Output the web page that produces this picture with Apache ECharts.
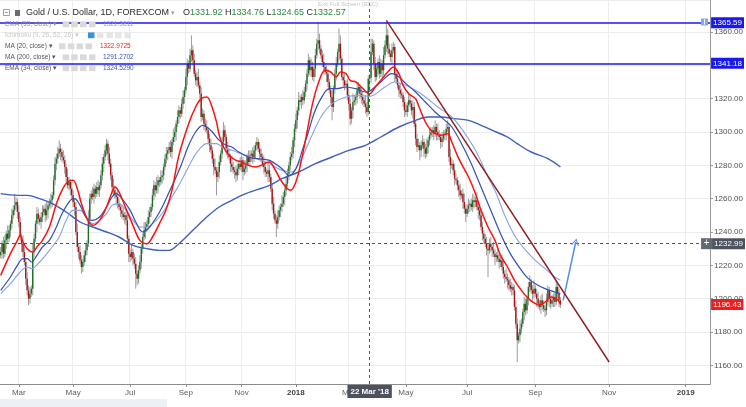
<!DOCTYPE html>
<html><head><meta charset="utf-8">
<script src="https://cdn.jsdelivr.net/npm/echarts@6/dist/echarts.min.js"></script>
<style>html,body{margin:0;padding:0;background:#fff}#c{width:746px;height:407px}</style>
</head><body><div id="c"></div>
<script>
// ---------------- DATA ----------------
const closes = [
1228,1233,1227,1235,1239,1236,1241,1245,1250,1253,1256,1258,1252,1246,1237,1233,1228,1222,1212,1205,1200,1203,1206,
1228,1236,1245,1251,1248,1246,1249,1252,1254,1250,1253,1256,1257,1259,1262,1271,1281,1284,1287,1290,
1288,1285,1283,1279,1273,1268,1270,1266,1262,1258,1255,1240,1231,1228,1223,1219,
1222,1226,1229,1233,1248,1260,1263,1261,1266,1263,1267,1265,1268,1274,1281,1285,1289,1293,
1287,1281,1274,1267,1265,1262,1261,1257,1255,1253,1251,1249,1250,1247,1236,1227,1225,1228,1224,1221,1215,
1212,1217,1222,1230,1237,1241,1243,1245,1249,1252,1255,1262,1268,1265,1268,1271,1270,1273,1274,1279,1284,1287,1289,1291,1288,1294,1297,1300,1305,1309,1313,1311,1317,1321,1325,1333,1341,1338,1346,1349,
1343,1335,1331,1333,1328,1323,1309,1311,1305,1303,1301,1296,1292,1289,1284,1279,1277,1273,
1276,1282,1287,1294,1301,
1297,1290,1287,1285,1281,1279,1277,1276,1274,
1278,1281,1279,1283,1276,1278,1280,1285,1282,1286,1287,1284,1289,1292,1294,
1290,1287,1285,1281,1279,1276,1275,1277,1273,1266,1257,1251,1247,1245,
1249,1253,1255,1257,1261,1265,1269,1275,1280,1285,1287,1295,1302,1307,1313,1319,1318,1321,1319,1324,1329,1335,1343,1337,1339,1333,1338,1346,1353,1355,
1350,1346,1342,1339,1336,1335,1330,1325,1321,1315,
1326,1335,1341,1348,1353,1344,1333,1331,1328,1329,1322,1317,1308,
1313,1318,1319,1321,1325,1327,1323,1321,1319,1317,1315,1312,1331.92,1332.57,
1348,1353,1341,1333,1338,1342,1335,1341,1337,1346,1352,1358,
1350,1347,1345,1349,1351,1335,1332,1328,1325,1323,1322,1318,1313,1312,1316,1319,1317,1313,1315,1305,1296,1291,1292,1289,
1292,1294,1290,1287,1291,1295,1298,1300,1301,1299,1303,1300,1298,1297,1294,1296,1298,1299,1302,1303,
1285,1280,1281,1277,1272,1271,1268,1265,1262,1263,1258,1254,1251,1254,1256,1257,1255,1259,1258,1259,1255,1253,1250,1243,1239,1236,1233,1230,1229,
1233,1231,1229,1227,1225,1226,1224,1222,1223,1219,1215,1213,1212,1211,1208,1206,1207,1205,1195,1185,1175,
1178,1182,1185,1192,1197,1193,1200,1207,1210,1205,1203,1206,1203,1200,1197,1195,1199,1196,1194,1193,1198,1205,1200,1197,1199,1201,1198,1207,1203,1199,1196.43
];
const firstOpen = 1226;
const wickUp = [
3,2,4,3,2,5,3,2,4,3, 7,3,2,4,3,2,5,3,2,4, 3,4,2,5,3,2,4,3,2,3, 4,2,3,5,2,3,4,2,3,4,
3,4,5,3,2,4,3,2,5,3, 2,4,3,2,3,5,2,4,3,2, 3,4,2,5,3,2,4,3,2,3, 4,2,3,4,2,3,3,2,4,3,
2,5,3,2,4,3,2,3,4,2, 3,4,2,3,5,2,3,4,2,3, 4,3,2,5,3,2,4,3,2,4, 3,2,5,3,2,4,3,2,3,4,
2,3,4,2,5,3,2,4,3,2, 3,4,2,5,3,2,4,9,3,4, 2,3,5,2,4,3,2,3,4,2, 3,4,2,3,5,2,3,4,2,3,
5,3,2,4,3,2,5,3,2,4, 3,2,4,3,2,5,3,2,4,3, 2,4,3,2,3,2,4,3,2,5, 3,2,4,3,2,3,4,2,3,4,
3,2,5,3,2,4,3,2,3,4, 2,3,4,2,5,3,2,4,3,2, 3,4,2,5,3,2,4,3,11,4, 2,3,5,2,4,3,2,3,4,2,
3,4,2,9,5,2,3,4,2,3, 4,3,2,5,3,2,4,3,2,4, 3,2,5,3,2,2.19,8,3,2,4, 3,2,4,3,2,5,3,8,4,3,
2,4,3,2,3,5,2,4,3,2, 3,4,2,5,3,2,4,3,2,3, 4,2,3,4,2,3,5,2,4,3, 2,3,4,2,5,3,2,4,3,2,
3,4,2,5,3,2,4,3,2,3, 4,2,3,5,2,3,4,2,3,4, 3,2,5,3,2,4,3,2,3,4, 2,3,4,2,5,3,2,4,3,2,
3,4,2,5,3,2,4,3,2,3, 4,3,2,5,3,2,4,3,2,3, 4,2,3,5,2,3,4,2,3,4, 3,2,5,3,2,4,3,2,3,4,
2,3,2
];
const wickDn = [
2,4,3,2,5,3,2,4,3,2, 3,2,4,3,2,5,3,2,4,3, 4,3,2,4,3,2,5,3,2,4, 3,2,4,3,5,2,3,4,2,3,
4,3,2,5,3,2,4,3,2,3, 4,2,3,5,2,3,4,2,4,3, 2,4,3,2,5,3,2,4,3,2, 3,4,2,3,5,2,3,4,2,3,
4,3,2,5,3,2,4,3,2,4, 3,2,5,3,2,4,3,9,4,3, 2,4,3,2,5,3,2,4,3,2, 3,4,2,5,3,2,4,3,2,3,
4,2,3,4,2,3,5,2,4,3, 2,3,4,2,5,3,2,4,3,2, 3,4,2,5,3,2,4,3,2,3, 4,2,3,5,2,11,3,4,2,3,
3,2,4,3,2,5,3,2,4,4, 3,4,2,3,5,2,3,4,2,3, 4,3,2,5,3,2,4,3,2,4, 3,2,5,3,2,4,3,2,8,3,
2,4,3,2,5,3,2,4,3,2, 3,4,2,5,3,2,4,3,2,3, 4,2,3,4,2,3,5,2,4,3, 2,3,4,2,5,3,2,4,8,3,
3,4,2,5,3,2,4,3,2,3, 4,4,3,5,2,3,4,2,3,4, 3,2,4,3,2,7.27,3,2,4,3, 2,4,3,2,5,3,2,4,3,2,
3,4,2,5,3,2,4,3,2,3, 4,2,3,4,2,3,5,2,4,3, 2,6,4,2,5,3,2,4,3,2, 3,4,2,5,3,2,4,3,2,3,
4,2,3,5,2,3,4,2,3,4, 3,2,4,3,5,2,3,4,2,3, 4,3,2,5,3,2,4,3,2,4, 16,2,3,4,2,5,3,2,4,3,
2,3,4,2,5,3,2,4,3,2, 3,13,2,4,3,2,5,3,2,4, 3,2,4,3,2,5,3,2,4,3, 2,4,3,2,5,3,2,4,3,2,
3,4,2
];
const slotCount = 510;                 // bars + future space to early 2019
const monthTicks = [[13,'Mar'],[52,'May'],[93,'Jul'],[133,'Sep'],[173,'Nov'],[212,'2018'],
                    [250,'Mar'],[291,'May'],[335,'Jul'],[384,'Sep'],[437,'Nov'],[492,'2019']];
const ma20 = [[0,1214],[7,1227],[12,1235],[14,1238],[16,1234],[19,1230],[23,1228],[26,1231],[30,1235],[35,1243],[40,1257],[44,1265],[48,1270],[52,1271],[55,1266],[58,1257],[62,1248],[66,1244],[71,1247],[76,1255],[80,1264],[82,1267],[85,1264],[90,1254],[95,1244],[100,1235],[105,1233],[109,1237],[114,1245],[119,1254],[123,1265],[128,1286],[135,1305],[140,1315],[144,1320],[148,1321],[151,1317],[155,1306],[157,1298],[160,1291],[164,1286],[169,1283],[173,1282],[178,1280],[183,1279],[193,1282],[196,1279],[202,1270],[208,1265],[212,1270],[216,1283],[220,1300],[224,1317],[228,1329],[233,1337],[237,1336],[241,1333],[244,1336],[248,1335],[251,1331],[255,1330],[259,1327],[265,1323],[269,1327],[273,1331],[278,1336],[282,1339],[286,1335],[289,1328],[293,1323],[298,1320],[300,1316],[305,1306],[309,1301],[312,1299],[316,1298],[321,1299],[324,1294],[329,1284],[336,1273],[341,1263],[345,1253],[350,1243],[355,1235],[359,1226],[364,1219],[369,1211],[374,1205],[379,1200],[384,1197],[387,1196],[391,1198],[395,1201],[399,1200],[402,1197]];
const ema34 = [[0,1205],[7,1213],[12,1220],[16,1224],[19,1224],[22,1222],[26,1226],[30,1231],[35,1235],[40,1243],[44,1251],[50,1259],[53,1260],[57,1256],[62,1248],[66,1247],[71,1249],[76,1255],[80,1261],[83,1263],[87,1260],[93,1253],[97,1246],[102,1240],[107,1243],[112,1249],[116,1255],[121,1264],[126,1273],[130,1281],[135,1292],[140,1300],[145,1304],[148,1303],[152,1300],[157,1295],[162,1292],[166,1291],[171,1288],[178,1285],[184,1284],[193,1283],[202,1278],[207,1274],[212,1278],[217,1290],[221,1300],[225,1311],[230,1320],[236,1326],[241,1326],[248,1327],[255,1326],[262,1324],[265,1324.5],[273,1330],[281,1335],[286,1333],[291,1329],[298,1324],[305,1318],[312,1312],[319,1307],[324,1303],[331,1293],[338,1281],[345,1267],[352,1253],[359,1239],[366,1227],[374,1217],[379,1212],[384,1209],[391,1206],[398,1204],[402,1203]];
const ema55 = [[0,1203],[7,1209],[14,1216],[19,1219],[22,1218],[28,1222],[35,1229],[42,1237],[47,1247],[52,1253],[57,1253],[62,1248],[66,1245],[71,1247],[76,1251],[80,1256],[85,1257],[90,1253],[95,1247],[100,1243],[105,1243],[109,1245],[114,1249],[119,1255],[123,1261],[128,1268],[133,1276],[138,1284],[143,1290],[148,1293],[155,1293],[159,1291],[166,1289],[176,1286],[184,1284],[193,1281],[202,1277],[209,1276],[216,1284],[223,1297],[230,1309],[238,1317],[248,1321],[257,1322],[265,1321.4],[276,1327],[283,1330],[291,1328],[298,1325],[305,1321],[314,1315],[324,1309],[331,1302],[341,1289],[350,1273],[356,1263],[362,1250],[369,1238],[376,1230],[384,1223],[391,1218],[398,1213],[402,1211]];
const ma200 = [[0,1263],[12,1262],[19,1262],[28,1260],[37,1257],[47,1252],[57,1246],[66,1243],[76,1240],[85,1237],[95,1232],[105,1230],[114,1229],[121,1229],[128,1233],[138,1241],[148,1249],[157,1255],[166,1259],[176,1263],[193,1268],[202,1272],[214,1276],[226,1281],[238,1285],[250,1289],[262,1292],[273,1297],[286,1303],[298,1307],[307,1309],[316,1309],[326,1308],[336,1307],[345,1304],[356,1300],[364,1297],[371,1293],[381,1288],[393,1284],[402,1279]];
const trendLine = [[277,1367],[437,1162]];
const arrowPath = [[404,1199],[413,1234]];
const levelLines = [1365.59, 1341.18];
const lastPrice = 1196.43;
const crossIndex = 265, crossPrice = 1232.99, crossDate = "22 Mar '18";
const ohlc = ['1331.92','1334.76','1324.65','1332.57'];
const legendItems = [
  ['EMA (55, close)','1321.3811'],
  ['Ichimoku (9, 26, 52, 26)',''],
  ['MA (20, close)','1322.9725'],
  ['MA (200, close)','1291.2702'],
  ['EMA (34, close)','1324.5290']
];
// ---------------- BUILD ----------------
const cats = Array.from({length: slotCount}, (_, i) => String(i));
const tickMap = {}; monthTicks.forEach(t => tickMap[t[0]] = t[1]);
const isTick = (i) => tickMap[i] !== undefined;
const candles = closes.map((c, i) => {
  const o = i === 0 ? firstOpen : closes[i - 1];
  return [i, o, c, Math.min(o, c) - wickDn[i], Math.max(o, c) + wickUp[i]];
});
const UP = '#1f6e24', DN = '#a81212', WICK = '#9c9c9c';
const FONT = '"Liberation Sans", Arial, sans-serif';

const graphics = [];
const T = (x, y, text, size, fill, extra) => graphics.push({type:'text', x, y, z:200, silent:true,
  style:Object.assign({text, fill, fontSize:size, fontFamily:FONT, verticalAlign:'middle', align:'left'}, extra||{})});
const R = (x, y, w, h, fill, extra) => graphics.push({type:'rect', z:200, silent:true,
  shape:{x, y, width:w, height:h}, style:Object.assign({fill}, extra||{})});

// header row
R(3.5, 9.5, 6, 6, 'none', {stroke:'#8a8a8a', lineWidth:0.8});
graphics.push({type:'line', z:201, silent:true, shape:{x1:5, y1:12.5, x2:8, y2:12.5}, style:{stroke:'#8a8a8a', lineWidth:0.8}});
R(15, 10, 5, 6, '#6c6c6c');
T(26, 13, 'Gold / U.S. Dollar, 1D, FOREXCOM', 9, '#2a2a2a');
T(171, 13, '▾', 7, '#a0a0a0');
T(183, 13, `{l|O}{v|${ohlc[0]}} {l|H}{v|${ohlc[1]}} {l|L}{v|${ohlc[2]}} {l|C}{v|${ohlc[3]}}`, 9, '#2a2a2a',
  {rich:{l:{fill:'#2a2a2a', fontSize:9, fontFamily:FONT}, v:{fill:'#2e8540', fontSize:9, fontFamily:FONT}}});
T(318, 4, 'Exit Full Screen (ESC)', 6, '#c6c6c6');
// indicator rows
const rowY = [24.3, 35.3, 46.3, 57.3, 68.3];
const rowIcons = [[62.7,71.2,80,89],[88,97,106.5,115,124.5],[59,67.8,76.5,85.5],[62.7,71.2,80,89],[62.7,71.2,80,89]];
const rowTextColor = ['#8f8f8f','#c8c8c8','#555','#555','#555'];
const rowValueColor = ['#8a9bd0','','#ff1a1a','#3b55a8','#3b55a8'];
const rowValueX = [103, 0, 100, 103, 103];
legendItems.forEach((it, k) => {
  T(5, rowY[k], it[0] + ' ▾', 6.5, rowTextColor[k]);
  rowIcons[k].forEach((x, j) => R(x, rowY[k] - 2.9, 6.5, 5.8, (k === 1 && j === 0) ? '#3d8fe0' : (k === 1 ? '#e6e6e6' : '#dadada')));
  if (it[1]) T(rowValueX[k], rowY[k], it[1], 6.5, rowValueColor[k]);
});
// small icon on the top level line
R(701, 18.5, 7, 7, '#86a9e6');
graphics.push({type:'line', z:201, silent:true, shape:{x1:704.5, y1:19.5, x2:704.5, y2:24.5}, style:{stroke:'#fff', lineWidth:1}});
// bottom strip
R(0, 399, 167, 8, '#edf0f4');

const lineS = (name, data, color, width) => ({type:'line', name, data, smooth:0.35, symbol:'none', silent:true,
  lineStyle:{color, width}, z:5, animation:false});

const levelLabel = (txt, bg) => ({show:true, position:'end', formatter:txt, color:'#fff', backgroundColor:bg,
  padding:[2,2,1,2], fontSize:8, fontFamily:FONT, distance:1});

const option = {
  animation:false,
  backgroundColor:'#ffffff',
  grid:{left:0, right:33, top:0, bottom:23, containLabel:false},
  xAxis:{type:'category', data:cats, boundaryGap:true,
    axisLine:{lineStyle:{color:'#8c8c8c'}},
    axisTick:{show:true, interval:(i)=>isTick(i), alignWithLabel:true, length:3, lineStyle:{color:'#8c8c8c'}},
    axisLabel:{interval:(i)=>isTick(i), margin:5, color:'#5c5c5c', fontSize:8, fontFamily:FONT,
      formatter:(v)=>{const t = tickMap[Number(v)] || ''; return /^\d{4}$/.test(t) ? '{b|'+t+'}' : t;},
      rich:{b:{fontWeight:'bold', fontSize:8, color:'#444', fontFamily:FONT}}},
    splitLine:{show:true, interval:(i)=>isTick(i), lineStyle:{color:'#ececec'}}
  },
  yAxis:{type:'value', position:'right', min:1148.8, max:1379.2, splitNumber:11,
    axisLine:{show:true, lineStyle:{color:'#9a9a9a'}},
    axisTick:{show:true, length:3, lineStyle:{color:'#9a9a9a'}},
    axisLabel:{color:'#505050', fontSize:8, fontFamily:FONT, margin:4, showMinLabel:false, showMaxLabel:false,
      formatter:(v)=> Math.abs(v/20 - Math.round(v/20)) < 1e-6 ? v.toFixed(2) : ''},
    splitLine:{lineStyle:{color:'#ececec'}}
  },
  graphic:graphics,
  series:[
    {type:'custom', name:'candles', data:candles, clip:true, silent:true, z:3,
      encode:{x:0, y:[1,2,3,4]},
      renderItem:(params, api) => {
        const i = api.value(0), o = api.value(1), c = api.value(2), l = api.value(3), h = api.value(4);
        const pO = api.coord([i, o]), pC = api.coord([i, c]), pL = api.coord([i, l]), pH = api.coord([i, h]);
        const w = Math.max(1, api.size([1, 0])[0] * 1.0);
        const x = pO[0];
        const top = Math.min(pO[1], pC[1]), bot = Math.max(pO[1], pC[1]);
        return {type:'group', children:[
          {type:'line', shape:{x1:x, y1:pH[1], x2:x, y2:pL[1]}, style:{stroke:WICK, lineWidth:1}},
          {type:'rect', shape:{x:x - w/2, y:top, width:w, height:Math.max(bot - top, 1)}, style:{fill: c >= o ? UP : DN}}
        ]};
      }
    },
    lineS('MA200', ma200, '#3d5fbd', 1.4),
    lineS('EMA55', ema55, '#88a2e4', 1.1),
    lineS('EMA34', ema34, '#3150b3', 1.2),
    lineS('MA20', ma20, '#ff1010', 1.5),
    {type:'line', name:'trend', data:trendLine, symbol:'none', silent:true, z:6,
      lineStyle:{color:'#8e1b1b', width:1.4},
      markLine:{silent:true, symbol:'none', animation:false, precision:2,
        data:[
          {yAxis:levelLines[0], lineStyle:{color:'#1818f2', width:1.5, type:'solid'}, label:levelLabel(levelLines[0].toFixed(2), '#1818f2')},
          {yAxis:levelLines[1], lineStyle:{color:'#1818f2', width:1.5, type:'solid'}, label:levelLabel(levelLines[1].toFixed(2), '#1818f2')},
          {yAxis:lastPrice, lineStyle:{color:'rgba(0,0,0,0)', width:0}, label:levelLabel(lastPrice.toFixed(2), '#f01c1c')},
          {yAxis:crossPrice, lineStyle:{color:'#555', width:1, type:[3,3]},
            label:{show:true, position:'end', distance:-9, formatter:'{p|+}{v|' + crossPrice.toFixed(2) + '}',
              rich:{p:{backgroundColor:'#626874', color:'#fff', fontSize:10, width:11, height:11, align:'center', padding:[0,0,0,0]},
                    v:{backgroundColor:'#4c525e', color:'#fff', fontSize:8, fontFamily:FONT, padding:[2,2,1,2], height:8}}}},
          {xAxis:String(crossIndex), lineStyle:{color:'#555', width:1, type:[3,3]},
            label:{show:true, position:'start', distance:1, formatter:crossDate, color:'#fff', backgroundColor:'#4c525e',
              padding:[3,3,2,3], fontSize:8, fontWeight:'bold', fontFamily:FONT}},
          [{coord:[arrowPath[0][0], arrowPath[0][1]], symbol:'none', lineStyle:{color:'#4f8ff0', width:1.5, type:'solid'}, label:{show:false}},
           {coord:[arrowPath[1][0], arrowPath[1][1]], symbol:'path://M0,10L5,0L10,10L8.6,10L5,2.8L1.4,10Z', symbolSize:[8,7]}]
        ]}
    }
  ]
};
const chart = echarts.init(document.getElementById('c'));
chart.setOption(option);
</script>
</body></html>
